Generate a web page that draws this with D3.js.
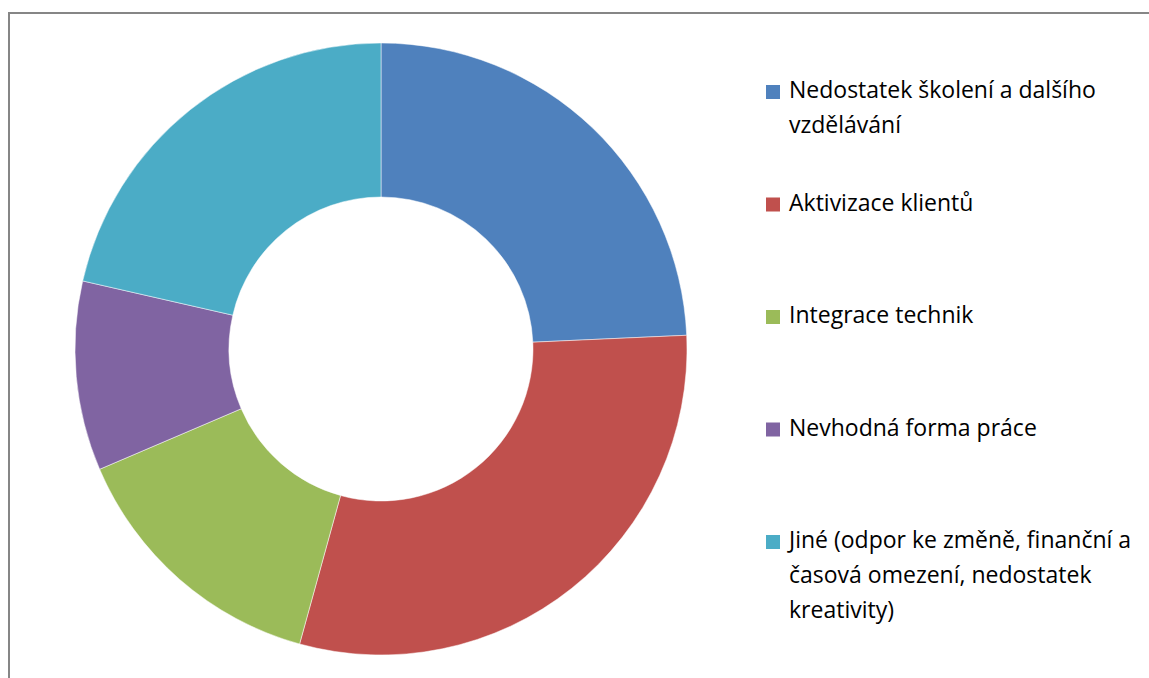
<!DOCTYPE html>
<html>
<head>
<meta charset="utf-8">
<script src="https://cdn.jsdelivr.net/npm/d3@7"></script>
<style>
  body { margin: 0; background: #fff; }
  svg text { font-family: "Open Sans", sans-serif; }
</style>
</head>
<body>
<div id="chart"></div>
<script>
// data
var categories = [
    ["Nedostatek školení a dalšího", "vzdělávání"],
    ["Aktivizace klientů"],
    ["Integrace technik"],
    ["Nevhodná forma práce"],
    ["Jiné (odpor ke změně, finanční a", "časová omezení, nedostatek", "kreativity)"]
];
var values = [17, 21, 10, 7, 15];
var colors = ["#4F81BD", "#C0504D", "#9BBB59", "#8064A2", "#4BACC6"];

var W = 1149, H = 678;
var cx = 381, cy = 349,
    outerR = 306, innerR = 152;

var svg = d3.select("#chart").append("svg")
    .attr("width", W)
    .attr("height", H);

// chart frame (extends past the right and bottom edges)
svg.append("rect")
    .attr("x", 9)
    .attr("y", 13)
    .attr("width", W + 20)
    .attr("height", H + 20)
    .attr("fill", "#fff")
    .attr("stroke", "#868686")
    .attr("stroke-width", 2);

var pie = d3.pie().sort(null).value(function(d) { return d; });
var arc = d3.arc().innerRadius(innerR).outerRadius(outerR);

var g = svg.append("g")
    .attr("transform", "translate(" + cx + "," + cy + ")");

g.selectAll("path")
    .data(pie(values))
    .enter().append("path")
    .attr("d", arc)
    .attr("fill", function(d, i) { return colors[i]; })
    .attr("stroke", "#fff")
    .attr("stroke-width", 0.5);

// legend
var legendY = d3.scaleLinear().domain([0, categories.length - 1]).range([98, 548]);
var lineH = 35;

var items = svg.selectAll(".legend")
    .data(categories)
    .enter().append("g")
    .attr("class", "legend")
    .attr("transform", function(d, i) { return "translate(766," + legendY(i) + ")"; });

items.append("rect")
    .attr("x", 0)
    .attr("y", -13)
    .attr("width", 14)
    .attr("height", 14)
    .attr("fill", function(d, i) { return colors[i]; });

items.append("text")
    .attr("x", 23)
    .attr("y", 0)
    .attr("font-size", 23)
    .attr("fill", "#000")
    .selectAll("tspan")
    .data(function(d) { return d; })
    .enter().append("tspan")
    .attr("x", 23)
    .attr("dy", function(d, i) { return i === 0 ? 0 : lineH; })
    .text(function(d) { return d; });
</script>
</body>
</html>
